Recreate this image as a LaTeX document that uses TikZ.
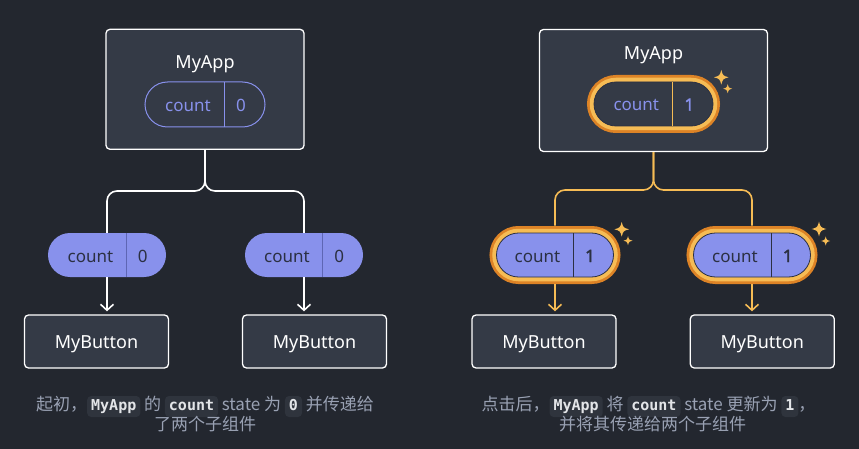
\documentclass[tikz,border=0pt]{standalone}
\usepackage{fontspec}
\setmainfont{Noto Sans}
\setmonofont{DejaVu Sans Mono}
\newfontfamily\cjk{Noto Sans CJK SC}
\newfontfamily\numfont{Noto Sans}[FakeBold=2]
\usetikzlibrary{arrows.meta,shapes.misc}
\definecolor{bgdark}{HTML}{23272F}
\definecolor{boxfill}{HTML}{343A46}
\definecolor{lavender}{HTML}{8891EC}
\definecolor{lavdiv}{HTML}{5E66B4}
\definecolor{pilltext}{HTML}{2B3042}
\definecolor{glow}{HTML}{F6BC55}
\definecolor{glowdark}{HTML}{DD8326}
\definecolor{capgray}{HTML}{99A1B3}
\definecolor{chipfill}{HTML}{2F343D}
\definecolor{chiptext}{HTML}{E3E5E8}

\newcommand{\codechip}[1]{\tikz[baseline=(chip.base)]\node[fill=chipfill,rounded corners=4pt,inner xsep=4pt,inner ysep=2.5pt,text height=11.5pt,text depth=4.5pt,text=chiptext,font=\ttfamily\bfseries\fontsize{15}{15}\selectfont] (chip) {#1};}

\begin{document}
\begin{tikzpicture}[x=1pt,y=-1pt,
		comp/.style={draw=white,fill=boxfill,line width=1.3pt,rounded corners=4pt},
		title/.style={anchor=base,text=white,font=\fontsize{18}{18}\selectfont},
		button/.style={comp,minimum width=144pt,minimum height=53pt,text=white,font=\fontsize{18}{18}\selectfont,text height=13pt,text depth=0pt},
		pill/.style={rounded rectangle,minimum width=#1,minimum height=44pt,inner sep=0pt},
		glowpill/.style={pill=#1,draw=pilltext,line width=0.8pt,preaction={draw=glowdark,line width=14pt},preaction={draw=glow,line width=8.5pt}},
		pilltxt/.style={anchor=base,font=\fontsize{17}{17}\selectfont},
		pillnum/.style={anchor=base,font=\numfont\fontsize{17}{17}\selectfont},
		wire/.style={line width=1.6pt,rounded corners=10pt},
		passarrow/.style={line width=1.6pt,-{Straight Barb[length=6pt,width=13pt]},shorten >=3pt},
		capline/.style={anchor=base,text=capgray,font=\cjk\fontsize{17}{20}\selectfont},
		sparkle/.pic={\fill[glow] (0,-1) .. controls (0.22,-0.22) .. (1,0) .. controls (0.22,0.22) .. (0,1) .. controls (-0.22,0.22) .. (-1,0) .. controls (-0.22,-0.22) .. cycle;}
	]
	\useasboundingbox (0,0) rectangle (859,449);
	\fill[bgdark] (0,0) rectangle (859,449);

	% before the click
	\node[comp,minimum width=198pt,minimum height=120pt] (lapp) at (205,89.3) {};
	\node[title] (lappname) at (205,68.5) {MyApp};
	\node[pill=120pt,draw=lavender,line width=1pt,minimum height=45pt] (lstate) at (205,104.5) {};
	\draw[lavender,line width=1pt] (224,82) -- (224,127);
	\node[pilltxt,text=lavender] at (188,112) {count};
	\node[pilltxt,text=lavender] at (241,112) {0};

	\node[pill=118pt,fill=lavender] (lc1) at (107,255) {};
	\draw[lavdiv,line width=1pt] (126,233) -- (126,277);
	\node[pilltxt,text=pilltext] at (90.5,262) {count};
	\node[pilltxt,text=pilltext] at (142.7,262) {0};
	\node[pill=118pt,fill=lavender] (lc2) at (304,255) {};
	\draw[lavdiv,line width=1pt] (322.3,233) -- (322.3,277);
	\node[pilltxt,text=pilltext] at (287,262) {count};
	\node[pilltxt,text=pilltext] at (339.3,262) {0};

	\node[button] (lb1) at (96.5,341.5) {MyButton};
	\node[button] (lb2) at (314.5,341.5) {MyButton};

	\coordinate (lfork) at (205,191);
	\draw[wire,white] (lapp.south) -- (lfork) -| (lc1.north);
	\draw[wire,white] (lapp.south) -- (lfork) -| (lc2.north);
	\draw[passarrow,white] (lc1.south) -- (lc1.south |- lb1.north);
	\draw[passarrow,white] (lc2.south) -- (lc2.south |- lb2.north);

	\node[capline] (lcap1) at (205,410) {起初，\codechip{MyApp} 的 \codechip{count} state 为 \codechip{0} 并传递给};
	\node[capline] (lcap2) at (205,430) {了两个子组件};

	% after the click
	\node[comp,minimum width=228pt,minimum height=122pt] (rapp) at (653.5,90.5) {};
	\node[title] (rappname) at (653.5,60) {MyApp};
	\node[glowpill=119pt,fill=boxfill] (rstate) at (653.5,104) {};
	\draw[glow,line width=1pt] (672.3,82) -- (672.3,126);
	\node[pilltxt,text=lavender] at (636.3,110.7) {count};
	\node[pillnum,text=lavender] at (689.3,110.7) {1};
	\pic[scale=7.3] at (721.3,77.3) {sparkle};
	\pic[scale=4.5] at (727.7,88.7) {sparkle};

	\node[glowpill=117pt,fill=lavender] (rc1) at (555,255) {};
	\draw[pilltext,line width=1pt] (573.3,233) -- (573.3,277);
	\node[pilltxt,text=pilltext] at (537.5,262) {count};
	\node[pillnum,text=pilltext] at (590,262) {1};
	\pic[scale=7.3] at (621.7,229.3) {sparkle};
	\pic[scale=4.5] at (628,240.7) {sparkle};
	\node[glowpill=117pt,fill=lavender] (rc2) at (752,255) {};
	\draw[pilltext,line width=1pt] (771,233) -- (771,277);
	\node[pilltxt,text=pilltext] at (735,262) {count};
	\node[pillnum,text=pilltext] at (787.7,262) {1};
	\pic[scale=7.3] at (819,229) {sparkle};
	\pic[scale=4.5] at (825.7,241) {sparkle};

	\node[button] (rb1) at (544,341.5) {MyButton};
	\node[button] (rb2) at (762.3,341.5) {MyButton};

	\coordinate (rfork) at (653.5,190);
	\draw[wire,glow,shorten >=7pt] (rapp.south) -- (rfork) -| (rc1.north);
	\draw[wire,glow,shorten >=7pt] (rapp.south) -- (rfork) -| (rc2.north);
	\draw[passarrow,glow,shorten <=7pt] (rc1.south) -- (rc1.south |- rb1.north);
	\draw[passarrow,glow,shorten <=7pt] (rc2.south) -- (rc2.south |- rb2.north);

	\node[capline] (rcap1) at (648.5,410) {点击后，\codechip{MyApp} 将 \codechip{count} state 更新为 \codechip{1}，};
	\node[capline] (rcap2) at (652.5,430) {并将其传递给两个子组件};
\end{tikzpicture}
\end{document}
